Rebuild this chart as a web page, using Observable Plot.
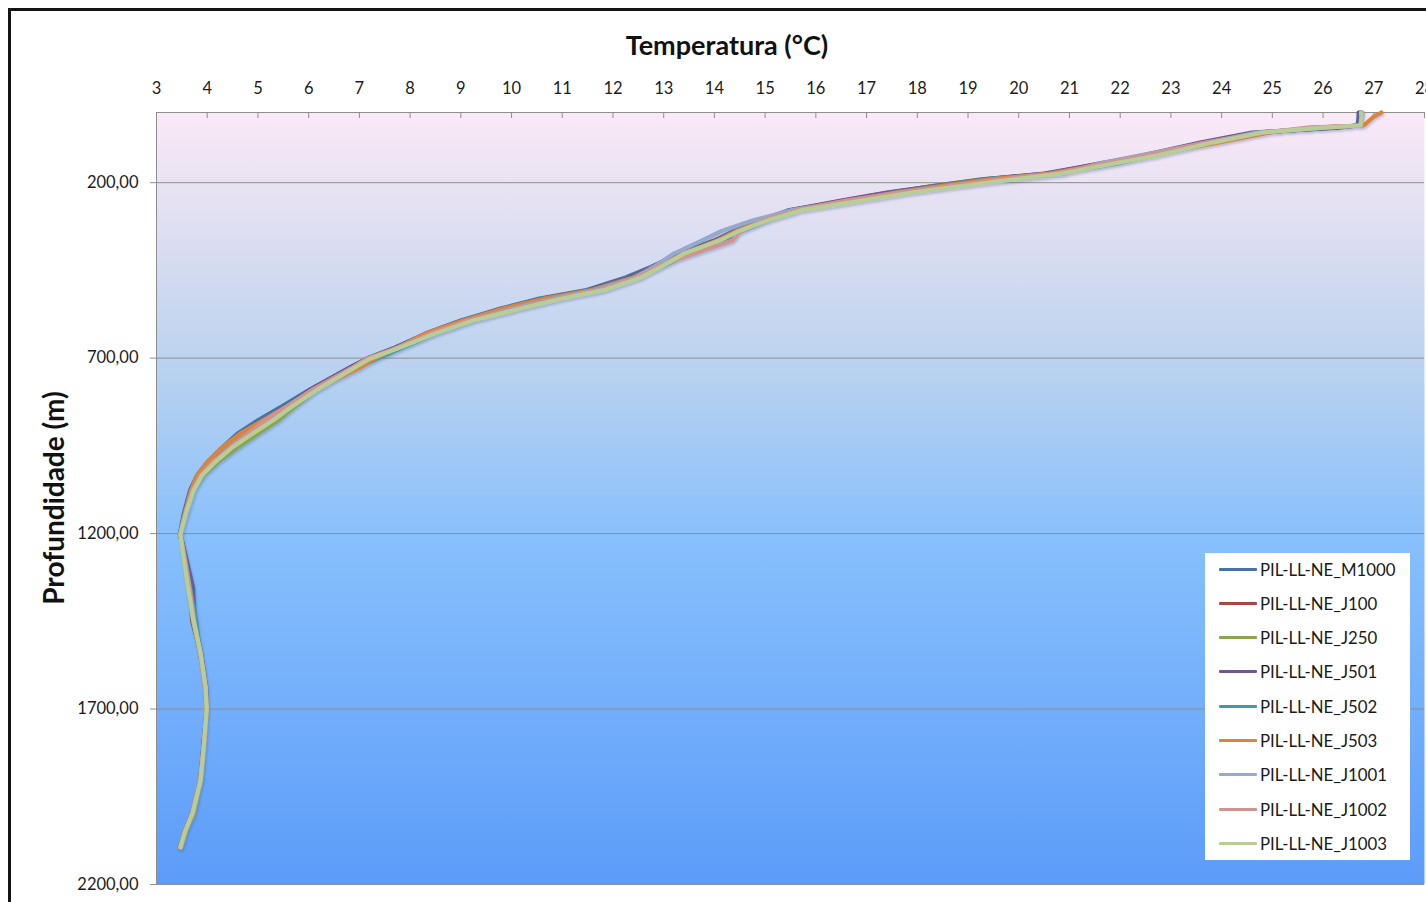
<!DOCTYPE html>
<html>
<head>
<meta charset="utf-8">
<script src="https://cdn.jsdelivr.net/npm/d3@7"></script>
<script src="https://cdn.jsdelivr.net/npm/@observablehq/plot@0.6"></script>
<style>
  body { margin: 0; background: #fff; font-family: Lato, "Open Sans", sans-serif; }
  #wrap { position: relative; width: 1426px; height: 902px; overflow: hidden; background: #fff; }
  #wrap svg { position: absolute; left: 0; top: 0; }
  #border { position: absolute; left: 8px; top: 8px; width: 1460px; height: 940px; border: 3px solid #141414; box-sizing: border-box; pointer-events: none; }
  #title { position: absolute; left: 0; width: 1454px; top: 28px; text-align: center; font-weight: 700; font-size: 27px; color: #111; }
  #ylabel { position: absolute; left: 53px; top: 498px; transform: translate(-50%, -50%) rotate(-90deg); white-space: nowrap; font-weight: 700; font-size: 28px; color: #111; }
  #legend { position: absolute; left: 1205px; top: 553px; width: 205px; height: 307px; background: #fff; }
  .item { position: absolute; left: 0; height: 20px; display: flex; align-items: center; font-size: 16.8px; color: #1a1a1a; }
  .swatch { width: 38px; height: 3px; margin-left: 14px; margin-right: 3px; border-radius: 1px; }
</style>
</head>
<body>
<div id="wrap">
  <div id="title">Temperatura (°C)</div>
  <div id="ylabel">Profundidade (m)</div>
  <div id="legend"></div>
  <div id="border"></div>
</div>
<script>
// CTD casts: temperature (°C) sampled at common depth levels (m)
const depth = [0, 12, 37, 43, 57, 85, 122, 145, 174, 190, 208, 228, 251, 279, 308, 340, 365, 402, 440, 470, 507, 530, 558, 593, 630, 670, 701, 728, 792, 835, 877, 915, 954, 997, 1034, 1077, 1142, 1202, 1256, 1353, 1447, 1541, 1638, 1701, 1809, 1903, 1997, 2046, 2094];

const seriesNames = ["PIL-LL-NE_M1000", "PIL-LL-NE_J100", "PIL-LL-NE_J250", "PIL-LL-NE_J501", "PIL-LL-NE_J502", "PIL-LL-NE_J503", "PIL-LL-NE_J1001", "PIL-LL-NE_J1002", "PIL-LL-NE_J1003"];
const seriesColors = ["#4572a7", "#aa4643", "#89a54e", "#71588f", "#4198af", "#db843d", "#93a9cf", "#d19392", "#b9cd96"];

const tempM1000 = [26.70, 26.70, 26.68, 26.20, 24.70, 23.70, 22.50, 21.70, 20.55, 19.40, 18.40, 17.45, 16.55, 15.45, 14.90, 14.35, 14.00, 13.30, 12.75, 12.25, 11.45, 10.55, 9.80, 9.00, 8.30, 7.70, 7.15, 6.80, 6.00, 5.50, 5.00, 4.60, 4.30, 4.00, 3.80, 3.66, 3.54, 3.46, 3.56, 3.72, 3.76, 3.86, 3.97, 3.99, 3.92, 3.86, 3.72, 3.58, 3.48];
const tempJ100  = [26.74, 26.75, 26.73, 25.90, 24.90, 23.85, 22.55, 21.60, 20.60, 19.50, 18.50, 17.55, 16.60, 15.55, 14.95, 14.45, 14.30, 13.50, 12.85, 12.40, 11.60, 10.75, 9.95, 9.10, 8.35, 7.75, 7.20, 6.85, 6.05, 5.60, 5.20, 4.80, 4.45, 4.10, 3.87, 3.70, 3.57, 3.47, 3.55, 3.68, 3.70, 3.87, 3.96, 3.99, 3.93, 3.88, 3.71, 3.56, 3.47];
const tempJ250  = [26.75, 26.76, 26.74, 26.00, 24.80, 23.80, 22.65, 21.80, 20.70, 19.30, 18.35, 17.50, 16.65, 15.60, 15.05, 14.45, 14.10, 13.45, 12.95, 12.50, 11.75, 10.90, 10.10, 9.20, 8.45, 7.80, 7.25, 6.90, 6.15, 5.75, 5.40, 5.00, 4.60, 4.20, 3.92, 3.74, 3.58, 3.48, 3.52, 3.62, 3.72, 3.86, 3.97, 3.99, 3.94, 3.88, 3.74, 3.59, 3.49];
const tempJ501  = [26.72, 26.72, 26.70, 26.30, 24.60, 23.60, 22.45, 21.65, 20.50, 19.35, 18.40, 17.40, 16.50, 15.50, 14.90, 14.40, 14.00, 13.35, 12.80, 12.35, 11.55, 10.70, 9.90, 9.05, 8.35, 7.70, 7.15, 6.80, 6.00, 5.60, 5.25, 4.85, 4.50, 4.15, 3.90, 3.72, 3.57, 3.47, 3.56, 3.70, 3.74, 3.88, 3.98, 3.99, 3.93, 3.87, 3.71, 3.57, 3.46];
const tempJ502  = [26.75, 26.75, 26.73, 26.10, 24.80, 23.85, 22.70, 21.95, 20.75, 19.40, 18.50, 17.55, 16.75, 15.65, 15.05, 14.50, 14.15, 13.50, 12.95, 12.50, 11.70, 10.85, 10.10, 9.25, 8.50, 7.85, 7.35, 6.95, 6.05, 5.60, 5.20, 4.80, 4.45, 4.10, 3.87, 3.70, 3.56, 3.46, 3.55, 3.66, 3.78, 3.86, 3.97, 3.99, 3.92, 3.87, 3.70, 3.57, 3.47];
const tempJ503  = [27.15, 27.00, 26.80, 25.80, 24.95, 23.95, 22.60, 21.80, 20.60, 19.50, 18.55, 17.60, 16.65, 15.55, 14.95, 14.40, 14.05, 13.40, 12.85, 12.40, 11.55, 10.65, 9.85, 9.05, 8.30, 7.75, 7.30, 7.00, 6.10, 5.60, 5.10, 4.65, 4.30, 4.00, 3.80, 3.68, 3.56, 3.47, 3.53, 3.64, 3.73, 3.87, 3.96, 3.99, 3.93, 3.86, 3.70, 3.56, 3.46];
const tempJ1001 = [26.78, 26.77, 26.75, 26.00, 24.70, 23.75, 22.40, 21.60, 20.90, 19.90, 18.80, 17.70, 16.75, 15.50, 14.75, 14.10, 13.75, 13.20, 12.80, 12.45, 11.65, 10.85, 10.05, 9.15, 8.45, 7.80, 7.20, 6.90, 6.15, 5.70, 5.25, 4.85, 4.50, 4.15, 3.90, 3.74, 3.60, 3.48, 3.52, 3.62, 3.72, 3.87, 3.97, 3.99, 3.94, 3.88, 3.72, 3.58, 3.48];
const tempJ1002 = [26.76, 26.76, 26.74, 25.70, 24.85, 23.70, 22.50, 21.70, 20.70, 19.70, 18.70, 17.65, 16.60, 15.60, 14.95, 14.50, 14.35, 13.60, 12.85, 12.50, 11.75, 10.95, 10.15, 9.15, 8.40, 7.75, 7.15, 6.85, 6.05, 5.60, 5.15, 4.80, 4.45, 4.10, 3.87, 3.71, 3.57, 3.47, 3.54, 3.65, 3.74, 3.86, 3.95, 3.99, 3.93, 3.86, 3.71, 3.57, 3.47];
const tempJ1003 = [26.75, 26.76, 26.74, 26.00, 24.80, 23.85, 22.75, 21.90, 20.85, 19.95, 18.95, 17.90, 16.90, 15.70, 15.05, 14.45, 14.10, 13.40, 12.95, 12.55, 11.80, 11.00, 10.20, 9.25, 8.50, 7.80, 7.22, 6.89, 6.15, 5.70, 5.30, 4.90, 4.50, 4.15, 3.90, 3.73, 3.58, 3.47, 3.52, 3.62, 3.73, 3.87, 3.97, 3.99, 3.93, 3.87, 3.71, 3.57, 3.47];

const xTicks = [3, 4, 5, 6, 7, 8, 9, 10, 11, 12, 13, 14, 15, 16, 17, 18, 19, 20, 21, 22, 23, 24, 25, 26, 27, 28];
const yTicks = [200, 700, 1200, 1700, 2200];

const temps = [tempM1000, tempJ100, tempJ250, tempJ501, tempJ502, tempJ503, tempJ1001, tempJ1002, tempJ1003];
const rows = seriesNames.flatMap((name, i) => depth.map((d, j) => ({series: name, depth: d, temp: temps[i][j]})));

const axisGray = "#8e8e8e";
const chart = Plot.plot({
  width: 1426,
  height: 902,
  marginTop: 112,
  marginLeft: 156,
  marginRight: 2,
  marginBottom: 18,
  style: {background: "transparent", fontFamily: "Lato, 'Open Sans', sans-serif", fontSize: "16.5px", color: "#1c1c1c"},
  x: {domain: [3, 28]},
  y: {domain: [0, 2200], reverse: true},
  color: {domain: seriesNames, range: seriesColors},
  marks: [
    Plot.frame({fill: "url(#sea)", stroke: null}),
    Plot.gridY(yTicks, {stroke: axisGray, strokeOpacity: 1}),
    Plot.ruleX(xTicks, {stroke: axisGray, insetBottom: 902 - 112 - 18 - 6}),
    Plot.ruleX([3], {stroke: axisGray}),
    Plot.ruleY([0], {stroke: axisGray}),
    Plot.axisX(xTicks, {anchor: "top", tickSize: 0, tickPadding: 19, label: null, fontSize: 16.5}),
    Plot.axisY(yTicks, {anchor: "left", tickSize: 6, tickPadding: 12, stroke: axisGray, label: null, fontSize: 16.5,
      tickFormat: d => d.toFixed(2).replace(".", ",")}),
    Plot.line(rows, {x: "temp", y: "depth", z: "series", stroke: "series", strokeWidth: 4.2, strokeLinejoin: "round", strokeLinecap: "round"})
  ]
});

const svg = d3.select(chart);
svg.insert("defs", ":first-child").html(`
  <linearGradient id="sea" x1="0" y1="0" x2="0" y2="1">
    <stop offset="0" stop-color="#fbe9f8"/>
    <stop offset="0.1" stop-color="#e8e2f2"/>
    <stop offset="0.32" stop-color="#bcd3ef"/>
    <stop offset="0.55" stop-color="#88c0fc"/>
    <stop offset="1" stop-color="#5c9cfa"/>
  </linearGradient>
  <filter id="shade" x="-5%" y="-5%" width="110%" height="110%">
    <feDropShadow dx="1" dy="2" stdDeviation="1.2" flood-color="#3a5a8a" flood-opacity="0.3"/>
  </filter>`);
svg.selectAll("g[aria-label='line']").attr("filter", "url(#shade)");
document.getElementById("wrap").insertBefore(chart, document.getElementById("title"));

// legend
const legend = d3.select("#legend");
seriesNames.forEach((name, i) => {
  const item = legend.append("div").attr("class", "item").style("top", `${6 + i * 34.3}px`);
  item.append("div").attr("class", "swatch").style("background", seriesColors[i]);
  item.append("span").text(name);
});
</script>
</body>
</html>
